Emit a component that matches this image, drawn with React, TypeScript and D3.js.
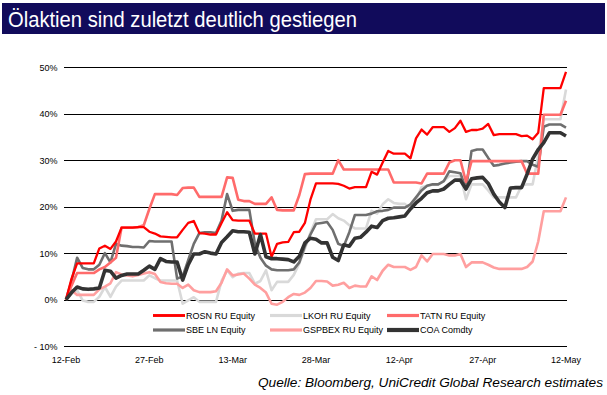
import React from "react";
import * as d3 from "d3";

const startDate = "2008-02-12";
const dayCount = 91;

const seriesNames = ["ROSN RU Equity", "LKOH RU Equity", "TATN RU Equity", "SBE LN Equity", "GSPBEX RU Equity", "COA Comdty"];

const rosn = [
  0, 4.5, 7.8, 7.8, 7.8, 7.8, 11, 11.6, 10.9, 12.5,
  15.5, 15.5, 15.5, 15.6, 15.6, 14.6, 14.2, 13.6, 13.5, 13.4,
  13.4, 15, 16.5, 16.9, 14.3, 14.2, 14.0, 14, 16.5, 18.8,
  17.1, 17, 17, 17, 14.2, 14.2, 14.2, 9.2, 12, 12.3,
  12.4, 14.5, 14.6, 16.5, 21.5, 25, 25, 25, 25, 24.9,
  24.5, 23.9, 24.2, 24.2, 24.2, 27.5, 26.9, 29.5, 32, 31.4,
  31.4, 31.4, 30.4, 34.7, 36.6, 35.5, 37.1, 37.1, 37.1, 36.1,
  36.9, 38.5, 36.1, 36.5, 36.5, 36.8, 37.8, 35.4, 35.6, 35.6,
  35.6, 35.6, 35.2, 35.3, 34.5, 35.9, 45.5, 45.5, 45.5, 45.5,
  49,
];

const lkoh = [
  0, 1.3, 2, -0.2, -0.5, -0.5, 0.6, 2.7, 0.6, 2.8,
  4.1, 4.1, 4.1, 4.1, 4.1, 5.2, 4.6, 4.1, 4.1, 4.1,
  4.1, -0.9, -0.2, 0.5, -0.5, -0.5, -0.5, -0.5, 4, 6.3,
  4.8, 5.6, 5.7, 5.7, 3.4, 4, 6.3, 2, 3.8, 3.8,
  3.8, 5.3, 7.8, 11, 14.4, 17.3, 17.3, 17.3, 18.4, 17.5,
  17, 16, 15.3, 15.3, 15.3, 19.1, 18.5, 20.5, 21.6, 20.8,
  20.6, 20.6, 19.5, 21.5, 24.2, 24.5, 24.7, 24.8, 25.5, 26.6,
  26.6, 26.6, 21.6, 24.8, 24.8, 24.8, 23.5, 22, 22, 22,
  22, 22, 24.5, 24.8, 24.8, 31, 38.8, 38.8, 38.8, 38.8,
  45.2,
];

const tatn = [
  0, 3, 5.7, 5.7, 5.7, 5.7, 6.5, 7, 8, 9,
  15.5, 15.5, 15.5, 15.6, 16, 19.5, 22.7, 22.7, 22.7, 22.7,
  22.5, 24, 24.1, 24.1, 22.1, 22.1, 22.1, 22.1, 22.1, 26.3,
  26.2, 21.5, 21.2, 21.2, 20.6, 20.6, 20.6, 22, 19.3, 19.2,
  19.2, 19.2, 22.5, 27, 27.1, 27.1, 27.1, 27.1, 27.1, 30,
  28, 28, 28, 28, 28, 28, 28, 28, 28, 25.2,
  25.2, 25.2, 25.2, 25.2, 25, 27.1, 27.1, 27.1, 27.1, 29.5,
  30, 30, 25.3, 29.8, 29.8, 29.8, 29.8, 29.8, 29.8, 29.8,
  29.8, 29.8, 29.8, 27.1, 27.1, 27.1, 39.8, 39.8, 39.8, 39.8,
  42.8,
];

const sbe = [
  0, 4, 9, 6.8, 6.5, 6.5, 7.5, 10, 8, 12,
  11.6, 11.5, 11.3, 11.3, 11.2, 12.6, 12.5, 12.5, 12.5, 12.5,
  4.5, 5, 8.5, 12, 14.3, 14.5, 14.5, 14.3, 17, 22.7,
  19.1, 19.3, 19.3, 19.3, 12, 9, 7.3, 6.5, 6.3, 6.3,
  6.3, 6.5, 8, 11.5, 14, 16.3, 16.5, 16.7, 15, 12,
  11.5, 14.5, 18.2, 18.2, 18.2, 18.5, 19, 19.1, 19.3, 19.8,
  19.8, 19.8, 20.5, 22, 23.5, 24.5, 24.8, 24.8, 25.5, 27.6,
  27.4, 27.2, 23.8, 32, 32.3, 32.3, 30.5, 28.8, 29, 29.3,
  29.5, 29.7, 29.8, 29.8, 29, 28.6, 37.2, 37.7, 37.7, 37.7,
  37,
];

const gspbex = [
  0, 2, 1, 1, 1, 1, 2.2, 2.8, 3.5, 5.9,
  5.4, 5.2, 5, 5.3, 5.6, 5.9, 5.5, 3.8, 3.5, 3.4,
  3.4, 2.5, 3.2, 2, 1.6, 1.6, 1.6, 1.8, 3.6, 6.5,
  5.2, 5.4, 5.6, 4.5, 3.2, 2.5, 1.5, -0.9, -1.1, -0.5,
  0.5, 1.2, 1, 1.5, 2.5, 4, 4, 3.9, 3, 3.2,
  3.6, 2.5, 3, 2.8, 2.8, 5, 4.2, 6.2, 7.5, 7,
  7, 7, 6.4, 7, 9.5, 8.2, 9.8, 9.8, 9.8, 9.5,
  9.5, 9.8, 7, 8, 8, 8, 7.5, 6.9, 6.6, 6.6,
  6.6, 6.6, 6.6, 7, 8.2, 12.5, 19, 19, 19, 19,
  22,
];

const coa = [
  0, 1.5, 2.7, 2.3, 2.2, 2.3, 2.5, 6.3, 6.1, 4.6,
  5.2, 5.5, 5.5, 5.5, 6.3, 7.2, 6.5, 8.8, 8.2, 8.1,
  8.1, 4.2, 7.5, 9.8, 9.8, 10.3, 10, 9.8, 12.3, 13.5,
  14.8, 14.6, 14.6, 14.5, 9.8, 14, 9.2, 8.8, 8.8, 8.7,
  8.6, 8.1, 9.3, 12.2, 13.2, 13, 12.2, 12.2, 9.1, 8.4,
  11.8, 11.5, 13.2, 13.4, 14.5, 15.8, 15.5, 17, 17.5, 17.6,
  17.8, 18, 19.5, 20.8, 21.8, 23, 23.4, 23.4, 23.8, 24.8,
  25.7, 25.7, 23.8, 26, 26.2, 26.3, 25, 22.7, 21, 19.8,
  24, 24.1, 24.1, 27, 30.3, 32.3, 33.8, 35.9, 35.9, 35.9,
  35.2,
];

const yTicks = [50, 40, 30, 20, 10, 0, -10];
const yTickLabels = ["50%", "40%", "30%", "20%", "10%", "0%", "- 10%"];
const xTickDates = ["2008-02-12", "2008-02-27", "2008-03-13", "2008-03-28", "2008-04-12", "2008-04-27", "2008-05-12"];
const xTickLabels = ["12-Feb", "27-Feb", "13-Mar", "28-Mar", "12-Apr", "27-Apr", "12-May"];

const titleText = "Ölaktien sind zuletzt deutlich gestiegen";
const sourceText = "Quelle: Bloomberg, UniCredit Global Research estimates";

const seriesValues = [rosn, lkoh, tatn, sbe, gspbex, coa];
const seriesColors = ["#ff0000", "#d9d9d9", "#ff6b6b", "#6f6f6f", "#ff9f9f", "#333333"];
const seriesWidths = [2.3, 2.6, 2.6, 2.6, 2.6, 3.6];

export default function App() {
  const W = 607, H = 395;
  const parse = d3.timeParse("%Y-%m-%d");
  const start = parse(startDate) as Date;
  const dates = d3.range(dayCount).map((i) => d3.timeDay.offset(start, i));
  const x = d3.scaleTime().domain([start, dates[dates.length - 1]]).range([66, 566]);
  const y = d3.scaleLinear().domain([-10, 50]).range([346, 67.3]);
  const line = (vals: number[]) =>
    d3.line<number>().x((_, i) => x(dates[i])).y((v) => y(v)).curve(d3.curveLinear)(vals) as string;

  const drawOrder = [1, 4, 3, 2, 0, 5];
  const legendCols = [153, 270, 387];
  const legendRows = [315.5, 330];
  const font = "Arial, 'Liberation Sans', sans-serif";

  return (
    <div style={{ position: "absolute", left: 0, top: 0 }}>
      <svg width={W} height={H} style={{ display: "block", background: "#fff" }}>
        <rect x={2} y={3} width={603} height={31} fill="#110b5b" />
        <text x={8} y={27} fill="#fff" fontFamily="'Liberation Sans Narrow', 'Liberation Sans', Arial, sans-serif" fontSize={22} textLength={349} lengthAdjust="spacingAndGlyphs">
          {titleText}
        </text>
        {yTicks.map((t, i) => (
          <g key={t}>
            <line x1={64} x2={567} y1={Math.round(y(t)) + 0.5} y2={Math.round(y(t)) + 0.5} stroke="#000" strokeWidth={1} />
            <text x={57.5} y={y(t) + 3.5} textAnchor="end" fontFamily={font} fontSize={9} fill="#000">
              {yTickLabels[i]}
            </text>
          </g>
        ))}
        {xTickDates.map((d, i) => (
          <text key={d} x={x(parse(d) as Date)} y={362.5} textAnchor="middle" fontFamily={font} fontSize={9} fill="#000">
            {xTickLabels[i]}
          </text>
        ))}
        {drawOrder.map((si) => (
          <path key={si} d={line(seriesValues[si])} fill="none" stroke={seriesColors[si]} strokeWidth={seriesWidths[si]} strokeLinejoin="round" />
        ))}
        {seriesNames.map((name, i) => {
          const cx = legendCols[i % 3];
          const cy = legendRows[Math.floor(i / 3)];
          return (
            <g key={name}>
              <line x1={cx} x2={cx + 32} y1={cy} y2={cy} stroke={seriesColors[i]} strokeWidth={seriesWidths[i] + 0.6} />
              <text x={cx + 33} y={cy + 3.3} fontFamily={font} fontSize={9} fill="#000">
                {name}
              </text>
            </g>
          );
        })}
        <text x={258} y={387} fontFamily={font} fontStyle="italic" fontSize={13} fill="#000" textLength={345} lengthAdjust="spacingAndGlyphs">
          {sourceText}
        </text>
      </svg>
    </div>
  );
}
